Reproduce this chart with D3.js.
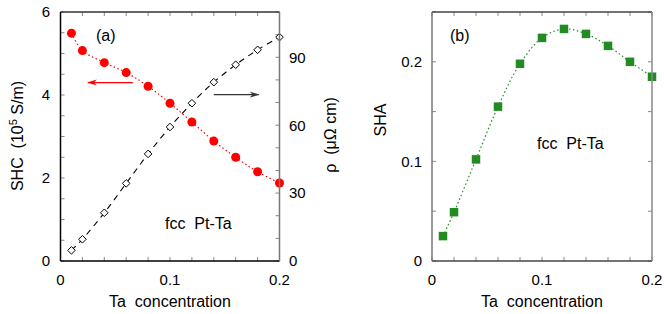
<!DOCTYPE html>
<html><head><meta charset="utf-8">
<script src="https://cdn.jsdelivr.net/npm/d3@7"></script>
<style>
body{margin:0;background:#fff;}
svg text{font-family:"Liberation Sans",Arial,Helvetica,sans-serif;fill:#000;white-space:pre;}
</style></head>
<body><svg id="c" width="664" height="314"></svg>
<script>
const conc = [0.01,0.02,0.04,0.06,0.08,0.10,0.12,0.14,0.16,0.18,0.20];
const shc  = [5.49,5.07,4.78,4.54,4.21,3.80,3.35,2.89,2.50,2.15,1.88];
const rho  = [4.7,9.6,21.3,34.3,47.3,59.2,69.7,79.0,86.7,93.3,98.9];
const sha  = [0.025,0.049,0.102,0.155,0.198,0.224,0.233,0.228,0.216,0.200,0.185];
const xTickLabels = [0,0.1,0.2];
const shcTickLabels = [0,2,4,6];
const rhoTickLabels = [0,30,60,90];
const shaTickLabels = [0,0.1,0.2];

const svg = d3.select("#c");
const FS = 15;

function frame(g, x, y, cols){
  const [x0,x1]=x.range(), [y0,y1]=y.range();
  g.append("line").attr("x1",x0).attr("x2",x1).attr("y1",y0).attr("y2",y0).attr("stroke",cols.bottom).attr("stroke-width",1.5);
  g.append("line").attr("x1",x0).attr("x2",x1).attr("y1",y1).attr("y2",y1).attr("stroke",cols.top).attr("stroke-width",1.5);
  g.append("line").attr("x1",x0).attr("x2",x0).attr("y1",y0).attr("y2",y1).attr("stroke",cols.left).attr("stroke-width",1.5);
  g.append("line").attr("x1",x1).attr("x2",x1).attr("y1",y0).attr("y2",y1).attr("stroke",cols.right).attr("stroke-width",1.5);
}
function xTicks(g,x,y){
  const [y0,y1]=y.range();
  const t = d3.range(0,0.2001,0.02);
  g.selectAll(null).data(t).enter().append("line")
   .attr("x1",d=>x(d)).attr("x2",d=>x(d)).attr("y1",y0).attr("y2",y0-4).attr("stroke","#888");
  g.selectAll(null).data(t).enter().append("line")
   .attr("x1",d=>x(d)).attr("x2",d=>x(d)).attr("y1",y1).attr("y2",y1+4).attr("stroke","#888");
  g.selectAll(null).data(xTickLabels).enter().append("text")
   .attr("x",d=>x(d)).attr("y",y0+24).attr("text-anchor","middle").attr("font-size",FS)
   .text(d=>d3.format("")(d));
}
function yTicks(g,y,xpos,dir,step,labels,lx,anchor){
  const [a,b]=y.domain();
  const t = d3.range(a,b+1e-9,step);
  g.selectAll(null).data(t).enter().append("line")
   .attr("x1",xpos).attr("x2",xpos+4*dir).attr("y1",d=>y(d)).attr("y2",d=>y(d)).attr("stroke","#888");
  if(labels){
    g.selectAll(null).data(labels).enter().append("text")
     .attr("x",lx).attr("y",d=>y(d)).attr("dy","0.36em").attr("text-anchor",anchor).attr("font-size",FS)
     .text(d=>d3.format("")(d));
  }
}

// ---------- Panel (a)
const ga = svg.append("g");
const xa = d3.scaleLinear().domain([0,0.2]).range([60.5,279.5]);
const ya = d3.scaleLinear().domain([0,6]).range([261,12]);
const yr = d3.scaleLinear().domain([0,110]).range([261,12]);

xTicks(ga,xa,ya);
yTicks(ga,ya,60.5,1,0.5,shcTickLabels,50,"end");
yTicks(ga,yr,279.5,-1,10,rhoTickLabels,289,"start");

// rho line (black dashed)
const lineR = d3.line().x((d,i)=>xa(conc[i])).y(d=>yr(d)).curve(d3.curveCatmullRom.alpha(0.5));
ga.append("path").attr("d",lineR(rho)).attr("fill","none").attr("stroke","#000").attr("stroke-width",1.1).attr("stroke-dasharray","6,5");
const dsz = 3.8;
ga.selectAll(null).data(rho).enter().append("path")
  .attr("d",(d,i)=>{const cx=xa(conc[i]),cy=yr(d);return `M${cx},${cy-dsz}L${cx+dsz},${cy}L${cx},${cy+dsz}L${cx-dsz},${cy}Z`;})
  .attr("fill","#fff").attr("stroke","#000").attr("stroke-width",1);

// shc line (red dotted)
const lineS = d3.line().x((d,i)=>xa(conc[i])).y(d=>ya(d)).curve(d3.curveCatmullRom.alpha(0.5));
ga.append("path").attr("d",lineS(shc)).attr("fill","none").attr("stroke","#ff0000").attr("stroke-width",1.2).attr("stroke-dasharray","1.5,2.5");
ga.selectAll(null).data(shc).enter().append("circle")
  .attr("cx",(d,i)=>xa(conc[i])).attr("cy",d=>ya(d)).attr("r",4.5).attr("fill","#ff0000");

frame(ga,xa,ya,{bottom:"#000",left:"#000",top:"#333",right:"#777"});

// arrows
svg.append("defs").html(
 '<marker id="ar" markerWidth="10" markerHeight="8" refX="9" refY="4" orient="auto" markerUnits="userSpaceOnUse"><path d="M0,1 L10,4 L0,7 L3,4 Z" fill="#ff0000"/></marker>'+
 '<marker id="ab" markerWidth="10" markerHeight="8" refX="9" refY="4" orient="auto" markerUnits="userSpaceOnUse"><path d="M0,1 L10,4 L0,7 L3,4 Z" fill="#333"/></marker>');
ga.append("line").attr("x1",xa(0.066)).attr("x2",xa(0.025)).attr("y1",ya(4.3)).attr("y2",ya(4.3))
  .attr("stroke","#ff0000").attr("stroke-width",1.3).attr("marker-end","url(#ar)");
ga.append("line").attr("x1",xa(0.140)).attr("x2",xa(0.181)).attr("y1",yr(73.5)).attr("y2",yr(73.5))
  .attr("stroke","#333").attr("stroke-width",1.3).attr("marker-end","url(#ab)");

ga.append("text").attr("x",96).attr("y",41).attr("font-size",FS+1).text("(a)");
ga.append("text").attr("x",165).attr("y",229).attr("font-size",FS+1).text("fcc  Pt-Ta");
ga.append("text").attr("x",170).attr("y",307).attr("text-anchor","middle").attr("font-size",FS+1).text("Ta  concentration");
const tSHC = ga.append("text").attr("transform","translate(23,136) rotate(-90)").attr("text-anchor","middle").attr("font-size",FS+1);
tSHC.append("tspan").text("SHC  (10");
tSHC.append("tspan").attr("dy",-6).attr("font-size",11).text("5");
tSHC.append("tspan").attr("dy",6).text(" S/m)");
ga.append("text").attr("transform","translate(336,135) rotate(-90)").attr("text-anchor","middle").attr("font-size",FS+1).text("ρ  (μΩ cm)");

// ---------- Panel (b)
const gb = svg.append("g");
const xb = d3.scaleLinear().domain([0,0.2]).range([432,652]);
const yb = d3.scaleLinear().domain([0,0.25]).range([261,12]);
xTicks(gb,xb,yb);
yTicks(gb,yb,432,1,0.05,shaTickLabels,422,"end");
yTicks(gb,yb,652,-1,0.05,null);
const lineB = d3.line().x((d,i)=>xb(conc[i])).y(d=>yb(d)).curve(d3.curveCatmullRom.alpha(0.5));
gb.append("path").attr("d",lineB(sha)).attr("fill","none").attr("stroke","#228b22").attr("stroke-width",1.2).attr("stroke-dasharray","1.5,2.5");
const s = 8.5;
gb.selectAll(null).data(sha).enter().append("rect")
  .attr("x",(d,i)=>xb(conc[i])-s/2).attr("y",d=>yb(d)-s/2).attr("width",s).attr("height",s).attr("fill","#228b22");
frame(gb,xb,yb,{bottom:"#444",left:"#777",top:"#444",right:"#888"});

gb.append("text").attr("x",450).attr("y",41).attr("font-size",FS+1).text("(b)");
gb.append("text").attr("x",537).attr("y",149).attr("font-size",FS+1).text("fcc  Pt-Ta");
gb.append("text").attr("x",542).attr("y",307).attr("text-anchor","middle").attr("font-size",FS+1).text("Ta  concentration");
gb.append("text").attr("transform","translate(386,120) rotate(-90)").attr("text-anchor","middle").attr("font-size",FS+1).text("SHA");
</script></body></html>
